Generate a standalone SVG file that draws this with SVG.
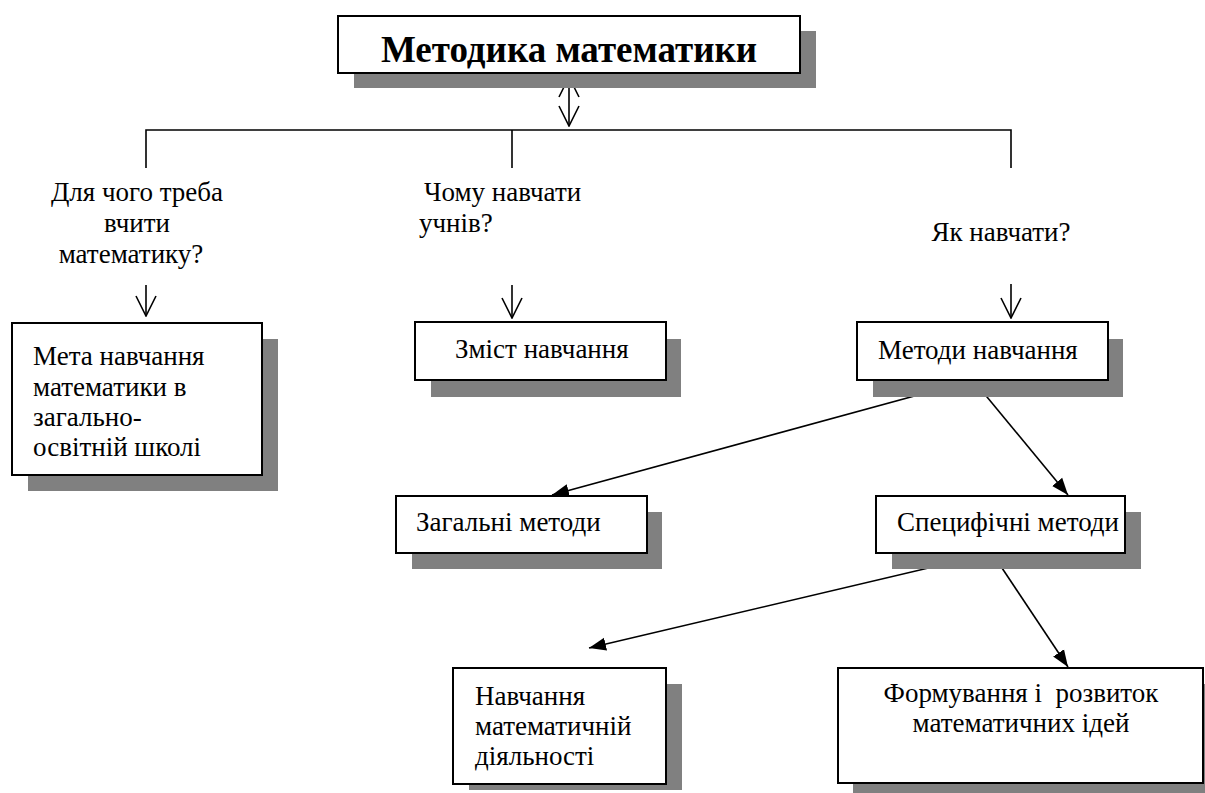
<svg xmlns="http://www.w3.org/2000/svg" width="1205" height="793" viewBox="0 0 1205 793">
  <style>
    text { font-family: "Liberation Serif", "Times New Roman", serif; font-size: 27px; fill: #000; }
    .title { font-size: 37px; font-weight: bold; }
    .box { fill: #fff; stroke: #000; stroke-width: 2; }
    .shadow { fill: #808080; stroke: none; }
    .line { fill: none; stroke: #000; stroke-width: 1.6; }
    .pre { white-space: pre; }
  </style>
  <defs>
    <marker id="open" markerUnits="userSpaceOnUse" viewBox="-1 -11 22 22" markerWidth="22" markerHeight="22" refX="20" refY="0" orient="auto-start-reverse">
      <path d="M0,-10 L20,0 L0,10" fill="none" stroke="#000" stroke-width="1.6"/>
    </marker>
    <marker id="solid" markerUnits="userSpaceOnUse" viewBox="0 -7 17 14" markerWidth="17" markerHeight="14" refX="17" refY="0" orient="auto">
      <path d="M0,-6.5 L17,0 L0,6.5 Z" fill="#000"/>
    </marker>
  </defs>

  <!-- connectors -->
  <g id="connectors">
    <line class="line" x1="569" y1="77" x2="569" y2="126" marker-start="url(#open)" marker-end="url(#open)"/>
    <polyline class="line" points="146,168 146,130 1011,130 1011,168"/>
    <line class="line" x1="512" y1="130" x2="512" y2="168"/>
    <line class="line" x1="146" y1="285" x2="146" y2="316" marker-end="url(#open)"/>
    <line class="line" x1="512" y1="285" x2="512" y2="318" marker-end="url(#open)"/>
    <line class="line" x1="1011" y1="284" x2="1011" y2="318" marker-end="url(#open)"/>
    <line class="line" x1="973" y1="380" x2="552" y2="495" marker-end="url(#solid)"/>
    <line class="line" x1="973" y1="380" x2="1068" y2="495" marker-end="url(#solid)"/>
    <line class="line" x1="992" y1="553" x2="589" y2="648" marker-end="url(#solid)"/>
    <line class="line" x1="992" y1="553" x2="1068" y2="667" marker-end="url(#solid)"/>
  </g>

  <!-- title -->
  <g id="node-title">
    <rect class="shadow" x="354" y="31" width="462" height="57"/>
    <rect class="box" x="338" y="16" width="462" height="57"/>
    <text class="title" x="569" y="62" text-anchor="middle">Методика математики</text>
  </g>

  <!-- questions -->
  <g id="q-why">
    <text x="137" y="201" text-anchor="middle">Для чого треба</text>
    <text x="137" y="232" text-anchor="middle">вчити</text>
    <text x="131" y="263" text-anchor="middle">математику?</text>
  </g>
  <g id="q-what">
    <text x="424" y="201">Чому навчати</text>
    <text x="419" y="232">учнів?</text>
  </g>
  <g id="q-how">
    <text x="1001" y="241" text-anchor="middle">Як навчати?</text>
  </g>

  <!-- first row -->
  <g id="node-goal">
    <rect class="shadow" x="28" y="339" width="250" height="152"/>
    <rect class="box" x="12" y="323" width="250" height="152"/>
    <text x="33" y="365">Мета навчання</text>
    <text x="33" y="396">математики в</text>
    <text x="33" y="426">загально-</text>
    <text x="33" y="456">освітній школі</text>
  </g>
  <g id="node-content">
    <rect class="shadow" x="431" y="339" width="250" height="58"/>
    <rect class="box" x="415" y="322" width="251" height="58"/>
    <text x="455" y="358">Зміст навчання</text>
  </g>
  <g id="node-methods">
    <rect class="shadow" x="873" y="339" width="250" height="58"/>
    <rect class="box" x="857" y="322" width="251" height="58"/>
    <text x="878" y="359">Методи навчання</text>
  </g>

  <!-- second row -->
  <g id="node-general">
    <rect class="shadow" x="412" y="512" width="250" height="57"/>
    <rect class="box" x="396" y="496" width="251" height="57"/>
    <text x="416" y="531">Загальні методи</text>
  </g>
  <g id="node-specific">
    <rect class="shadow" x="892" y="512" width="249" height="57"/>
    <rect class="box" x="876" y="496" width="249" height="57"/>
    <text x="897" y="531">Специфічні методи</text>
  </g>

  <!-- third row -->
  <g id="node-activity">
    <rect class="shadow" x="469" y="684" width="213" height="106"/>
    <rect class="box" x="453" y="668" width="213" height="116"/>
    <text x="475" y="705">Навчання</text>
    <text x="475" y="735">математичній</text>
    <text x="475" y="765">діяльності</text>
  </g>
  <g id="node-ideas">
    <rect class="shadow" x="853" y="684" width="360" height="109"/>
    <rect class="box" x="838" y="668" width="365" height="115"/>
    <text class="pre" x="1021" y="702" text-anchor="middle">Формування і  розвиток</text>
    <text x="1021" y="732" text-anchor="middle">математичних ідей</text>
  </g>
</svg>
